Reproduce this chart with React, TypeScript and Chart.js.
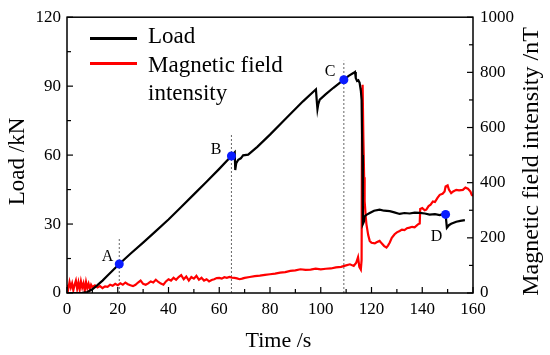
import React, { useEffect, useRef } from 'react';
import { Chart, registerables } from 'chart.js';
Chart.register(...registerables);

// ---- data ----
const loadTime = [0, 3, 6, 8, 10, 12, 14, 16, 18, 20.6, 25, 30, 35, 40, 45, 50, 55, 60, 64.8, 65.6, 66.1, 66.3, 66.7, 67.5, 68.5, 69.4, 71.4, 75, 80, 85, 88.5, 93, 97.6, 98.1, 98.4, 98.7, 99, 99.6, 102, 105, 109.1, 111, 113, 113.5, 113.8, 114.3, 114.8, 115.3, 115.8, 116.1, 116.4, 116.6, 117, 117.3, 118, 119.3, 121, 123.2, 125, 127.2, 129, 131.1, 133, 135, 137, 139, 141, 142.9, 145, 146.9, 148, 149.2, 149.7, 150.5, 151.4, 153.4, 155, 156.8];
const loadKN = [0, 0, 0.1, 0.4, 1.6, 3.4, 5.4, 7.6, 9.8, 12.6, 17.1, 21.9, 26.9, 32, 37.4, 42.9, 48.4, 54, 59.6, 60.6, 61.2, 53.5, 56.5, 58, 58.6, 59.9, 60.2, 63.6, 68.9, 74.5, 78.4, 83.4, 88.1, 88.6, 84, 80, 82, 84.1, 86.5, 89.3, 92.8, 94.5, 95.8, 96.2, 93.5, 92.3, 92.6, 91.5, 88, 84, 60, 30, 31, 33.4, 34, 34.8, 35.8, 36.3, 35.8, 35.6, 35.1, 34.4, 34.8, 34.6, 35, 34.9, 34.6, 34.1, 34.3, 33.9, 34.3, 34.2, 28.4, 29.5, 30.1, 31, 31.4, 31.7];

const fieldTime = [0, 0.5, 1, 1.5, 2, 2.5, 3, 3.5, 4, 4.5, 5, 5.5, 6, 6.5, 7, 7.5, 8, 8.5, 9, 9.5, 10, 11, 12, 13, 14, 15, 16, 17, 18, 19, 20, 21, 22, 23, 24, 25, 26, 27, 28, 29, 30, 31, 32, 33, 34, 35, 36, 37, 38, 39, 40, 41, 42, 43, 44, 45, 46, 47, 48, 49, 50, 51, 52, 53, 54, 55, 56, 57, 58, 59, 60, 61, 62, 63, 64, 65, 66, 67, 68, 69, 70, 72, 74, 76, 78, 80, 82, 84, 86, 88, 90, 92, 94, 96, 98, 100, 102, 104, 106, 108, 110, 111.5, 113, 114, 114.7, 115.2, 115.8, 116.1, 116.3, 116.5, 116.8, 117.1, 117.3, 117.7, 118, 118.7, 119.3, 120, 121.3, 122, 123.2, 124, 125, 125.9, 126.5, 127.2, 128, 129.1, 130, 131.1, 132, 133, 134, 135, 136, 137, 138.3, 139, 139.2, 140, 141, 141.6, 142.5, 143.3, 144.2, 145, 146, 146.9, 148, 148.8, 149.2, 150, 150.5, 151.4, 152.2, 153.4, 154.5, 156, 157, 158, 159, 159.5, 160];
const fieldNT = [30, 15, 40, 20, 35, 10, 30, 45, 15, 38, 12, 42, 20, 35, 8, 40, 18, 33, 15, 30, 22, 28, 20, 25, 18, 24, 22, 30, 26, 33, 28, 35, 30, 38, 32, 28, 25, 30, 38, 45, 33, 30, 35, 42, 38, 48, 40, 34, 30, 42, 50, 45, 55, 48, 58, 65, 50, 60, 45, 58, 52, 62, 48, 55, 45, 50, 42, 47, 50, 54, 55, 52, 57, 55, 58, 56, 55, 53, 50, 52, 55, 58, 61, 63, 66, 68, 70, 74, 76, 80, 82, 86, 84, 85, 88, 86, 88, 89, 93, 95, 100, 104, 98, 110, 130, 95, 85, 120, 740, 755, 560, 420, 332, 280, 250, 210, 189, 182, 180, 184, 189, 180, 170, 165, 172, 183, 200, 213, 220, 225, 230, 228, 235, 237, 240, 238, 249, 252, 305, 308, 300, 302, 315, 320, 332, 330, 345, 356, 360, 368, 386, 390, 375, 362, 368, 374, 372, 374, 382, 378, 368, 356, 352];

const markerTime = [20.6, 64.8, 109.1, 149.2];
const markerLoad = [12.6, 59.6, 92.8, 34.2];
const markerLabels = ['A', 'B', 'C', 'D'];
const guideTop = [24, 69, 101];

const xTicks = [0, 20, 40, 60, 80, 100, 120, 140, 160];
const loadTicks = [0, 30, 60, 90, 120];
const fieldTicks = [0, 200, 400, 600, 800, 1000];

const seriesNames = ['Load', 'Magnetic field', 'intensity'];
const xTitle = 'Time /s';
const yTitle = 'Load /kN';
const y2Title = 'Magnetic field intensity /nT';

const FONT = "Liberation Serif, Times New Roman, serif";
Chart.defaults.font.family = FONT;
Chart.defaults.color = '#000';

const decor = {
  id: 'decor',
  afterDatasetsDraw(chart: any) {
    const { ctx, chartArea: a, scales } = chart;
    const sx = scales.x, sy = scales.y, sy2 = scales.y2;
    ctx.save();
    ctx.strokeStyle = '#000';
    ctx.lineWidth = 1.5;
    ctx.strokeRect(a.left, a.top, a.right - a.left, a.bottom - a.top);
    ctx.lineWidth = 1.2;
    const seg = (x1: number, y1: number, x2: number, y2: number) => {
      ctx.beginPath(); ctx.moveTo(x1, y1); ctx.lineTo(x2, y2); ctx.stroke();
    };
    for (let i = 0; i < xTicks.length; i++) {
      const px = sx.getPixelForValue(xTicks[i]);
      seg(px, a.bottom, px, a.bottom - 6);
      if (i < xTicks.length - 1) {
        const pm = sx.getPixelForValue((xTicks[i] + xTicks[i + 1]) / 2);
        seg(pm, a.bottom, pm, a.bottom - 4);
      }
    }
    for (let i = 0; i < loadTicks.length; i++) {
      const py = sy.getPixelForValue(loadTicks[i]);
      seg(a.left, py, a.left + 6, py);
      if (i < loadTicks.length - 1) {
        const pm = sy.getPixelForValue((loadTicks[i] + loadTicks[i + 1]) / 2);
        seg(a.left, pm, a.left + 4, pm);
      }
    }
    for (let i = 0; i < fieldTicks.length; i++) {
      const py = sy2.getPixelForValue(fieldTicks[i]);
      seg(a.right, py, a.right - 6, py);
      if (i < fieldTicks.length - 1) {
        const pm = sy2.getPixelForValue((fieldTicks[i] + fieldTicks[i + 1]) / 2);
        seg(a.right, pm, a.right - 4, pm);
      }
    }
    const dxs = [-6, -10, -8.5, -3.3];
    const dys = [-3.5, -2.3, -4, 27];
    ctx.fillStyle = '#000';
    ctx.font = `16px ${FONT}`;
    ctx.textAlign = 'right';
    ctx.textBaseline = 'alphabetic';
    for (let i = 0; i < markerLabels.length; i++) {
      const px = sx.getPixelForValue(markerTime[i]);
      const py = sy.getPixelForValue(markerLoad[i]);
      ctx.fillText(markerLabels[i], px + dxs[i], py + dys[i]);
    }
    ctx.lineWidth = 3;
    ctx.strokeStyle = '#000';
    seg(90, 38.5, 137, 38.5);
    ctx.strokeStyle = '#ff0000';
    seg(90, 63.5, 137, 63.5);
    ctx.font = `23px ${FONT}`;
    ctx.textAlign = 'left';
    ctx.fillText(seriesNames[0], 148, 42.5);
    ctx.fillText(seriesNames[1], 148, 71.5);
    ctx.fillText(seriesNames[2], 148, 99.5);
    ctx.font = `22px ${FONT}`;
    ctx.textAlign = 'center';
    ctx.fillText(xTitle, 278.5, 346.5);
    ctx.save();
    ctx.translate(24, 161.5);
    ctx.rotate(-Math.PI / 2);
    ctx.font = `23px ${FONT}`;
    ctx.fillText(yTitle, 0, 0);
    ctx.restore();
    ctx.save();
    ctx.translate(538.3, 161.5);
    ctx.rotate(-Math.PI / 2);
    ctx.font = `24px ${FONT}`;
    ctx.fillText(y2Title, 0, 0);
    ctx.restore();
    ctx.restore();
  },
};

export default function App() {
  const ref = useRef<HTMLCanvasElement>(null);
  useEffect(() => {
    if (!ref.current) return;
    const loadData = loadTime.map((t, i) => ({ x: t, y: loadKN[i] }));
    const fieldData = fieldTime.map((t, i) => ({ x: t, y: fieldNT[i] }));
    const markers = markerTime.map((t, i) => ({ x: t, y: markerLoad[i] }));
    const guides = guideTop.map((top, i) => ({
      type: 'line' as const,
      data: [{ x: markerTime[i], y: 0 }, { x: markerTime[i], y: top }],
      borderColor: '#666',
      borderWidth: 1,
      borderDash: [2, 2],
      pointRadius: 0,
      yAxisID: 'y',
      order: 4,
    }));
    const tickFont = () => ({ family: FONT, size: 17 });
    const plain = (v: any) => String(v);
    const noGrid = { display: false, drawTicks: false, tickLength: 0 };
    const chart = new Chart(ref.current, {
      type: 'line',
      data: {
        datasets: [
          {
            type: 'scatter' as const,
            data: markers,
            pointRadius: 4.5,
            pointBackgroundColor: '#0a1cff',
            pointBorderWidth: 0,
            showLine: false,
            yAxisID: 'y',
            order: 0,
          } as any,
          {
            data: loadData,
            borderColor: '#000',
            borderWidth: 2.2,
            pointRadius: 0,
            tension: 0,
            yAxisID: 'y',
            order: 1,
          },
          {
            data: fieldData,
            borderColor: '#ff0000',
            borderWidth: 2.2,
            pointRadius: 0,
            tension: 0,
            yAxisID: 'y2',
            order: 2,
          },
          ...guides,
        ],
      },
      options: {
        animation: false,
        responsive: true,
        maintainAspectRatio: false,
        layout: { padding: { top: 13, left: 0, right: 0, bottom: 0 } },
        plugins: { legend: { display: false }, tooltip: { enabled: false } },
        scales: {
          x: {
            type: 'linear',
            min: 0,
            max: 160,
            grid: { ...noGrid },
            border: { display: false },
            ticks: { stepSize: 20, color: '#000', font: tickFont(), padding: 6, maxRotation: 0, callback: plain },
            afterFit: (s: any) => { s.height = 62; },
          },
          y: {
            position: 'left',
            min: 0,
            max: 120,
            grid: { ...noGrid },
            border: { display: false },
            ticks: { stepSize: 30, color: '#000', font: tickFont(), padding: 6, callback: plain },
            afterFit: (s: any) => { s.width = 67; },
          },
          y2: {
            position: 'right',
            min: 0,
            max: 1000,
            grid: { ...noGrid },
            border: { display: false },
            ticks: { stepSize: 200, color: '#000', font: tickFont(), padding: 7, callback: plain },
            afterFit: (s: any) => { s.width = 77; },
          },
        },
      } as any,
      plugins: [decor],
    });
    return () => chart.destroy();
  }, []);
  return (
    <div style={{ position: 'fixed', left: 0, top: 0, width: 550, height: 355, background: '#fff' }}>
      <canvas ref={ref} />
    </div>
  );
}
